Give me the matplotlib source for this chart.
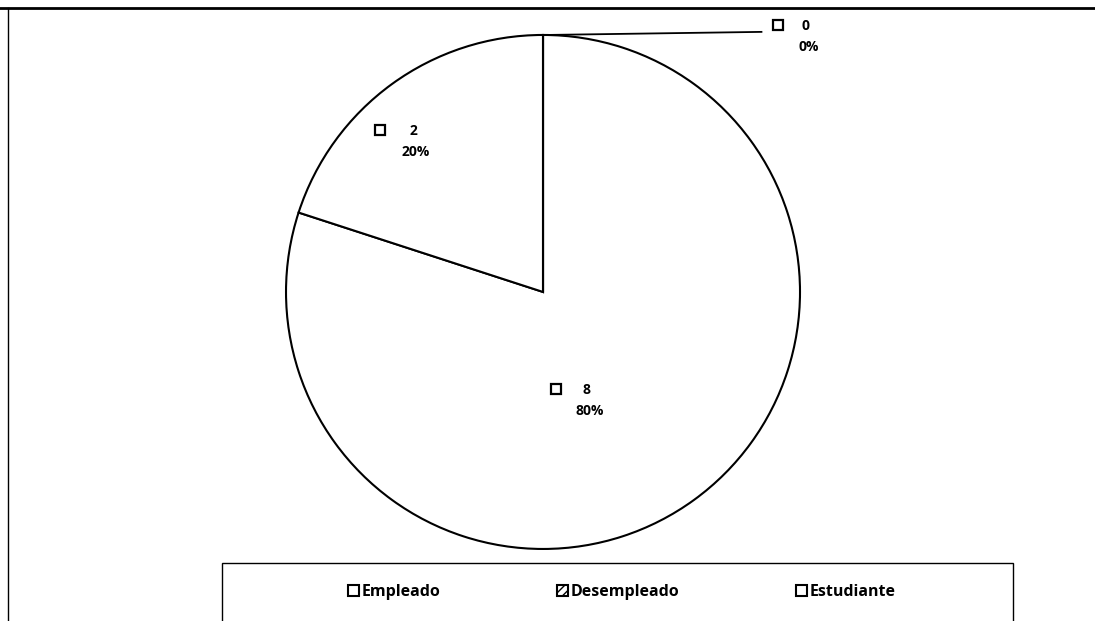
import numpy as np
import matplotlib
matplotlib.use('Agg')
import matplotlib.pyplot as plt
from matplotlib.patches import Patch, Rectangle
from matplotlib.lines import Line2D

plt.rcParams['font.family'] = ['Open Sans', 'DejaVu Sans']
plt.rcParams['hatch.linewidth'] = 1.0

categories = ['Empleado', 'Desempleado', 'Estudiante']
values = [8, 2, 0]
percents = ['80%', '20%', '0%']

fig = plt.figure(figsize=(10.95, 6.21), dpi=100)

# outer frame (top and left edges only visible)
fig.add_artist(Line2D([0, 1], [0.987, 0.987], color='black', lw=2))
fig.add_artist(Line2D([0.0073, 0.0073], [0, 0.987], color='black', lw=1))

ax = fig.add_axes([0.2612, 0.116, 0.4694, 0.8277])
wedges, _ = ax.pie(values, startangle=90, counterclock=False, radius=1,
                   colors=['white'] * 3,
                   wedgeprops=dict(edgecolor='black', linewidth=1.5))
ax.set_xlim(-1, 1)
ax.set_ylim(-1, 1)
ax.set_aspect('equal')
ax.axis('off')

# data labels: small key square + value / percent
label_pos = [(0.171, -0.381), (-0.506, 0.626), (1.023, 1.035)]
key_dx = [-0.12, -0.13, -0.11]
for i, (x, y) in enumerate(label_pos):
    ax.plot(x + key_dx[i], y + 0.005, marker='s', markersize=6.5,
            markerfacecolor='white', markeredgecolor='black',
            markeredgewidth=1.6, clip_on=False)
    ax.text(x, y, str(values[i]), fontsize=10, fontweight='bold',
            ha='center', va='center')
    ax.text(x + 0.012, y - 0.083, percents[i], fontsize=10, fontweight='bold',
            ha='center', va='center')

# leader line for the zero slice
ax.plot([0.01, 0.85], [1.0, 1.012], color='black', lw=1.3, clip_on=False)

# legend box
fig.add_artist(Rectangle((0.2027, -0.05), 0.722, 0.143, transform=fig.transFigure,
                         facecolor='white', edgecolor='black', lw=1))
handles = [Patch(facecolor='white', edgecolor='black', lw=1.5),
           Patch(facecolor='white', edgecolor='black', lw=1.5, hatch='////'),
           Patch(facecolor='white', edgecolor='black', lw=1.5)]
fig.legend(handles, categories, loc='center', bbox_to_anchor=(0.568, 0.047),
           ncol=3, frameon=False, handlelength=0.7, handleheight=0.7,
           handletextpad=0.15, columnspacing=7.3,
           prop=dict(weight='bold', size=11.5))

fig.savefig('out.png', dpi=100)
